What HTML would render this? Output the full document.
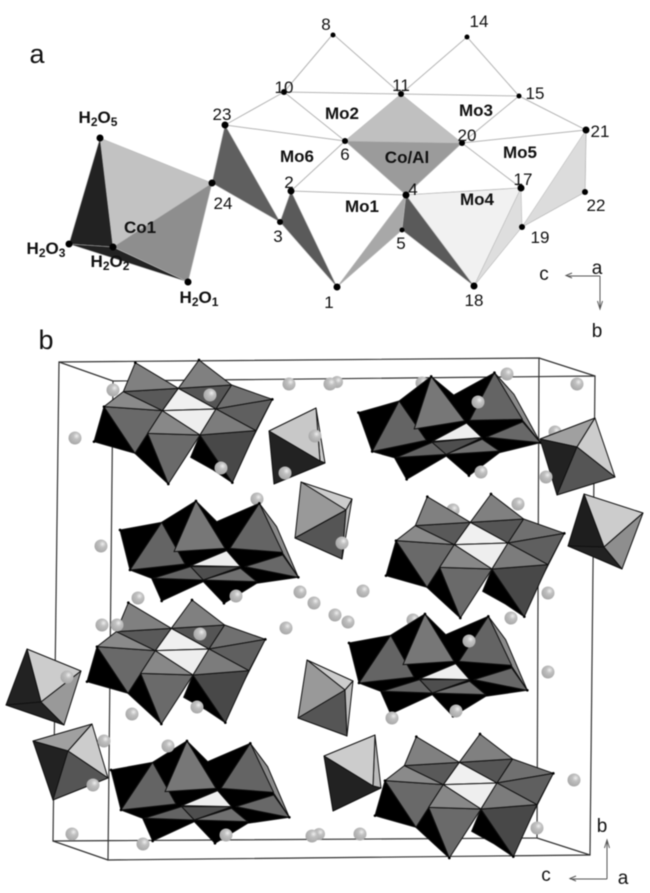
<!DOCTYPE html>
<html><head><meta charset="utf-8"><style>
html,body{margin:0;padding:0;background:#fff;width:650px;height:893px;overflow:hidden}
svg{display:block;filter:blur(.5px)}
text{font-family:"Liberation Sans",sans-serif;fill:#111;text-anchor:middle}
.n{font-size:17px}.m{font-size:17px;font-weight:bold}.w{font-size:17px;font-weight:bold}
.w .s{font-size:12px}.L{font-size:27px}.x{font-size:19px}
.t line{stroke:#b5b5b5;stroke-width:1}
.a circle{fill:#000}
.p polygon{stroke:#bbb;stroke-width:.6;stroke-linejoin:round}
.c polygon{stroke:#111;stroke-width:1;stroke-linejoin:round}
.k polygon{stroke:#111;stroke-width:3;stroke-linejoin:round}
.k circle{fill:#000}
</style></head><body>
<svg width="650" height="893" viewBox="0 0 650 893" xmlns="http://www.w3.org/2000/svg">
<defs>
<radialGradient id="s" cx=".62" cy=".35" r=".7"><stop offset="0" stop-color="#eeeeee"/><stop offset=".35" stop-color="#c0c0c0"/><stop offset="1" stop-color="#a6a6a6"/></radialGradient>
<g id="A" class="k">
<polygon points="312,200 282,305 405,340" fill="#000"/>
<polygon points="405,340 443,280 505,432" fill="#000"/>
<polygon points="600,285 572,352 640,390 697,428" fill="#000"/>
<polygon points="817,178 768,272 745,320" fill="#333"/>
<polygon points="443,280 600,285 505,432" fill="#6a6a6a"/>
<polygon points="600,285 768,272 697,428" fill="#484848"/>
<polygon points="312,200 487,212 405,340" fill="#696969"/>
<polygon points="535,145 487,212 648,207" fill="#f0f0f0"/>
<polygon points="487,212 648,207 600,285" fill="#eeeeee"/>
<polygon points="370,155 535,145 487,212" fill="#595959"/>
<polygon points="535,145 695,135 648,207" fill="#555"/>
<polygon points="406,68 535,145 370,155" fill="#808080"/>
<polygon points="597,60 695,135 535,145" fill="#808080"/>
<polygon points="312,200 370,155 487,212" fill="#8a8a8a"/>
<polygon points="695,135 817,178 648,207" fill="#707070"/>
<polygon points="648,207 817,178 768,272" fill="#5f5f5f"/>
<polygon points="487,212 443,280 600,285" fill="#888"/>
<polygon points="648,207 600,285 768,272" fill="#7c7c7c"/>
<circle cx="406" cy="68" r="4"/><circle cx="597" cy="60" r="4"/><circle cx="817" cy="178" r="4"/><circle cx="282" cy="305" r="4"/><circle cx="505" cy="432" r="4"/><circle cx="697" cy="428" r="4"/><circle cx="312" cy="200" r="4"/>
</g>
<g id="B" class="k">
<polygon points="778,490 830,560 895,712 848,640" fill="#8a8a8a"/>
<polygon points="360,570 485,547 588,483 650,545 778,490 848,640 895,712 770,730 672,790 610,725 485,783 455,715 390,690" fill="#000" stroke="#000"/>
<polygon points="485,547 390,690 555,672" fill="#646464"/>
<polygon points="588,483 522,635 675,625" fill="#777"/>
<polygon points="778,490 690,625 848,637" fill="#646464"/>
<polygon points="572,677 680,632 722,680" fill="#eeeeee"/>
<polygon points="460,715 572,680 610,720" fill="#636363"/>
<polygon points="572,680 722,680 610,720" fill="#4e4e4e"/>
<polygon points="610,720 722,685 770,725" fill="#707070"/>
<polygon points="735,680 848,645 895,712" fill="#686868"/>
<circle cx="360" cy="570" r="4"/><circle cx="588" cy="483" r="4"/><circle cx="778" cy="490" r="4"/><circle cx="895" cy="712" r="4"/><circle cx="485" cy="783" r="4"/><circle cx="672" cy="790" r="4"/><circle cx="390" cy="690" r="4"/>
</g>
</defs>
<rect width="650" height="893" fill="#fff"/>

<!-- panel a -->
<g class="t">
<line x1="333" y1="34" x2="284" y2="92"/><line x1="333" y1="34" x2="401" y2="94"/>
<line x1="467" y1="37" x2="401" y2="94"/><line x1="467" y1="37" x2="519" y2="96"/>
<line x1="284" y1="92" x2="401" y2="94"/><line x1="401" y1="94" x2="519" y2="96"/>
<line x1="284" y1="92" x2="225" y2="125"/><line x1="284" y1="92" x2="345" y2="141"/>
<line x1="519" y1="96" x2="462" y2="143"/><line x1="519" y1="96" x2="586" y2="130"/>
<line x1="225" y1="125" x2="345" y2="141"/><line x1="462" y1="143" x2="586" y2="130"/>
<line x1="345" y1="141" x2="291" y2="191"/><line x1="291" y1="191" x2="406" y2="195"/>
<line x1="406" y1="195" x2="521" y2="188"/><line x1="462" y1="143" x2="521" y2="188"/>
<line x1="586" y1="130" x2="585" y2="192"/><line x1="585" y1="192" x2="522" y2="227"/>
</g>
<g class="p">
<polygon points="100,138 212,183 113,247" fill="#c2c2c2"/>
<polygon points="100,138 69,244 113,247" fill="#222"/>
<polygon points="69,244 188,282 113,247" fill="#222"/>
<polygon points="212,183 188,282 113,247" fill="#8e8e8e"/>
<polygon points="225,125 212,183 280,222" fill="#5f5f5f"/>
<polygon points="291,191 280,222 337,287" fill="#5a5a5a"/>
<polygon points="337,287 406,195 402,230" fill="#a8a8a8"/>
<polygon points="406,195 402,230 474,286" fill="#5a5a5a"/>
<polygon points="406,195 521,188 474,286" fill="#f1f1f1"/>
<polygon points="521,188 522,227 474,286" fill="#dedede"/>
<polygon points="586,130 585,192 522,227" fill="#dcdcdc"/>
<polygon points="401,94 345,141 462,143" fill="#c0c0c0"/>
<polygon points="345,141 462,143 406,195" fill="#9b9b9b"/>
</g>
<g class="a">
<circle cx="333" cy="35" r="2.500"/><circle cx="467" cy="37" r="2.500"/><circle cx="284" cy="92" r="3"/><circle cx="401" cy="94" r="3"/><circle cx="519" cy="96" r="2.500"/><circle cx="225" cy="125" r="3.500"/><circle cx="345" cy="141" r="3"/><circle cx="462" cy="143" r="3"/><circle cx="586" cy="130" r="3.500"/><circle cx="212" cy="183" r="3.500"/><circle cx="291" cy="191" r="3.500"/><circle cx="406" cy="195" r="3.500"/><circle cx="521" cy="188" r="3.500"/><circle cx="585" cy="192" r="3"/><circle cx="280" cy="222" r="3"/><circle cx="402" cy="230" r="2.500"/><circle cx="522" cy="227" r="3"/><circle cx="337" cy="287" r="3.500"/><circle cx="474" cy="286" r="3.500"/><circle cx="100" cy="138" r="3.500"/><circle cx="69" cy="244" r="3.500"/><circle cx="113" cy="247" r="3.500"/><circle cx="188" cy="282" r="3.500"/>
</g>
<g>
<text class="L" x="37" y="63">a</text>
<text class="n" x="326" y="30">8</text><text class="n" x="479" y="27">14</text><text class="n" x="284" y="93">10</text><text class="n" x="401" y="91">11</text><text class="n" x="535" y="99">15</text><text class="n" x="222" y="120">23</text><text class="n" x="345" y="160">6</text><text class="n" x="467" y="141">20</text><text class="n" x="600" y="137">21</text><text class="n" x="223" y="209">24</text><text class="n" x="289" y="188">2</text><text class="n" x="413" y="195">4</text><text class="n" x="523" y="185">17</text><text class="n" x="596" y="211">22</text><text class="n" x="278" y="242">3</text><text class="n" x="401" y="249">5</text><text class="n" x="540" y="243">19</text><text class="n" x="329" y="308">1</text><text class="n" x="474" y="306">18</text>
<text class="m" x="342" y="119">Mo2</text><text class="m" x="476" y="116">Mo3</text><text class="m" x="297" y="162">Mo6</text><text class="m" x="407" y="163">Co/Al</text><text class="m" x="520" y="158">Mo5</text><text class="m" x="362" y="212">Mo1</text><text class="m" x="477" y="205">Mo4</text><text class="m" x="140" y="233">Co1</text>
<text class="w" x="98" y="123">H<tspan class="s" dy="3">2</tspan><tspan dy="-3">O</tspan><tspan class="s" dy="3">5</tspan></text>
<text class="w" x="46" y="254">H<tspan class="s" dy="3">2</tspan><tspan dy="-3">O</tspan><tspan class="s" dy="3">3</tspan></text>
<text class="w" x="110" y="267">H<tspan class="s" dy="3">2</tspan><tspan dy="-3">O</tspan><tspan class="s" dy="3">2</tspan></text>
<text class="w" x="199" y="303">H<tspan class="s" dy="3">2</tspan><tspan dy="-3">O</tspan><tspan class="s" dy="3">1</tspan></text>
<text class="x" x="544" y="280">c</text><text class="x" x="597" y="274">a</text><text class="x" x="597" y="337">b</text>
</g>
<g fill="none" stroke="#555" stroke-width="1"><path d="M600 276H567M572 273L566 275.500L572 278M600 276V308M597.500 301L600 309L602.500 301"/></g>

<!-- panel b -->
<text class="L" x="46" y="349">b</text>
<g fill="none" stroke="#333" stroke-width="1.200">
<path d="M59 362L539 358L537 838L53 841Z"/>
<path d="M59 362L113 381M539 358L595 376M537 838L590 855M53 841L108 860"/>
<path d="M113 381L595 376L590 855L108 860Z"/>
</g>
<g fill="url(#s)">
<circle cx="113" cy="390" r="6.500"/><circle cx="422" cy="383" r="6.500"/><circle cx="555" cy="432" r="6.500"/><circle cx="257" cy="499" r="6.500"/><circle cx="453" cy="510" r="6.500"/><circle cx="138" cy="598" r="6.500"/><circle cx="413" cy="620" r="6.500"/><circle cx="348" cy="622" r="6.500"/>
</g>

<use href="#A" transform="translate(0,340) scale(.3333)"/>
<use href="#A" transform="translate(292,474) scale(.3333)"/>
<use href="#A" transform="translate(-7,580) scale(.3333)"/>
<use href="#A" transform="translate(281,714) scale(.3333)"/>
<use href="#B" transform="translate(0,340) scale(.3333)"/>
<use href="#B" transform="translate(238,215) rotate(-5.500 200 190) scale(.3333)"/>
<use href="#B" transform="translate(-9,580) scale(.3333)"/>
<use href="#B" transform="translate(229,453) scale(.3333)"/>

<g class="c">
<polygon points="316,408 325,463 320,461" fill="#ccc"/>
<polygon points="269,431 316,408 320,461" fill="#c8c8c8"/>
<polygon points="269,431 320,461 325,463 274,484" fill="#222"/>

<polygon points="301,482 352,499 346,510" fill="#ccc"/>
<polygon points="301,482 295,538 346,510" fill="#999"/>
<polygon points="295,538 346,510 342,559" fill="#555"/>
<polygon points="346,510 352,499 342,559" fill="#bbb"/>

<polygon points="540,439 595,418 577,447" fill="#a0a0a0"/>
<polygon points="595,418 615,477 577,447" fill="#ccc"/>
<polygon points="540,439 577,447 557,495" fill="#222"/>
<polygon points="577,447 615,477 557,495" fill="#555"/>

<polygon points="584,494 643,513 604,547" fill="#ccc"/>
<polygon points="584,494 568,546 604,547" fill="#1e1e1e"/>
<polygon points="568,546 604,547 622,569" fill="#222"/>
<polygon points="604,547 643,513 622,569" fill="#8e8e8e"/>

<polygon points="27,649 81,671 41,702" fill="#ccc"/>
<polygon points="27,649 6,705 41,702" fill="#222"/>
<polygon points="6,705 41,702 64,725" fill="#222"/>
<polygon points="41,702 81,671 64,725" fill="#999"/>

<polygon points="33,741 92,724 68,751" fill="#a0a0a0"/>
<polygon points="92,724 108,778 68,751" fill="#ccc"/>
<polygon points="33,741 68,751 53,800" fill="#222"/>
<polygon points="68,751 108,778 53,800" fill="#555"/>

<polygon points="307,660 353,681 345,690" fill="#ccc"/>
<polygon points="307,660 298,718 345,690" fill="#999"/>
<polygon points="298,718 345,690 347,736" fill="#555"/>
<polygon points="345,690 353,681 347,736" fill="#bbb"/>

<polygon points="375,735 381,788 373,786" fill="#bbb"/>
<polygon points="324,756 375,735 373,786" fill="#ccc"/>
<polygon points="324,756 373,786 381,788 333,811" fill="#222"/>
</g>

<g fill="url(#s)">
<circle cx="210" cy="395" r="6.500"/><circle cx="289" cy="384" r="6.500"/><circle cx="337" cy="382" r="6"/><circle cx="330" cy="384" r="6.500"/><circle cx="75" cy="438" r="6.500"/><circle cx="315" cy="436" r="6.500"/><circle cx="221" cy="468" r="6.500"/><circle cx="285" cy="473" r="6.500"/><circle cx="101" cy="546" r="6.500"/><circle cx="342" cy="543" r="6.500"/><circle cx="236" cy="596" r="6.500"/><circle cx="300" cy="592" r="6.500"/><circle cx="314" cy="603" r="6.500"/><circle cx="335" cy="615" r="6.500"/>
<circle cx="507" cy="374" r="6.500"/><circle cx="577" cy="384" r="6.500"/><circle cx="478" cy="402" r="6.500"/><circle cx="546" cy="477" r="6.500"/><circle cx="481" cy="472" r="6.500"/><circle cx="518" cy="504" r="6.500"/><circle cx="363" cy="591" r="6.500"/><circle cx="548" cy="593" r="6.500"/><circle cx="511" cy="618" r="6.500"/>
<circle cx="102" cy="625" r="6.500"/><circle cx="117" cy="625" r="6.500"/><circle cx="200" cy="634" r="6.500"/><circle cx="286" cy="628" r="6.500"/><circle cx="67" cy="677" r="6.500"/><circle cx="132" cy="714" r="6.500"/><circle cx="197" cy="707" r="6.500"/><circle cx="104" cy="741" r="6.500"/><circle cx="168" cy="746" r="6.500"/><circle cx="93" cy="785" r="6.500"/><circle cx="72" cy="834" r="6.500"/><circle cx="143" cy="844" r="6.500"/><circle cx="226" cy="835" r="6.500"/><circle cx="319" cy="834" r="6"/><circle cx="312" cy="836" r="6.500"/>
<circle cx="548" cy="672" r="6.500"/><circle cx="469" cy="641" r="6.500"/><circle cx="456" cy="711" r="6.500"/><circle cx="392" cy="718" r="6.500"/><circle cx="574" cy="780" r="6.500"/><circle cx="537" cy="828" r="6.500"/><circle cx="360" cy="834" r="6.500"/>
</g>

<g fill="none" stroke="#555" stroke-width="1"><path d="M607 879V840M604.500 848L607 840L609.500 848M607 879H570M576 876L570 878.500L576 881"/></g>
<text class="x" x="602" y="832">b</text><text class="x" x="546" y="881">c</text><text class="x" x="623" y="884">a</text>
</svg>
</body></html>
